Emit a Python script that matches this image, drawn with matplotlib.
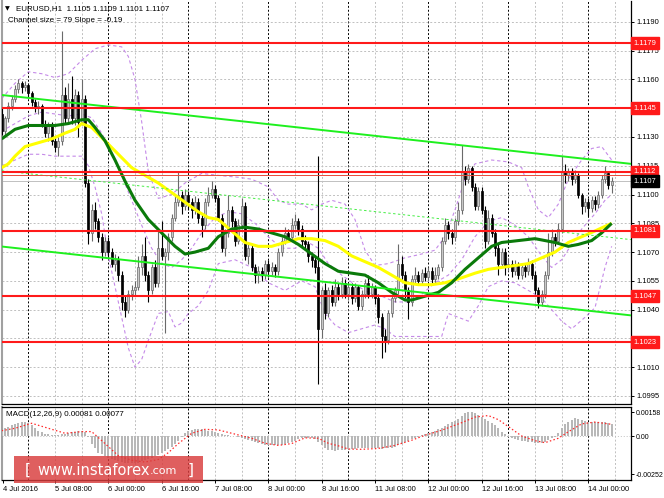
import numpy as np
import matplotlib
matplotlib.use("Agg")
import matplotlib.pyplot as plt
from matplotlib.transforms import blended_transform_factory
from matplotlib.patches import Rectangle

plt.rcParams["font.family"] = ["Liberation Sans", "DejaVu Sans"]

# -------------------------------------------------------
# Daten: EURUSD H1, Preise in Pips über 1.1000
# -------------------------------------------------------
open0 = 142
close = [133, 140, 146, 150, 155, 158, 156, 157, 153, 148,
         145, 146, 137, 132, 136, 128, 125, 128, 152, 140,
         150, 140, 152, 138, 150, 106, 80, 92, 86, 78,
         70, 76, 70, 64, 66, 58, 44, 40, 48, 50,
         52, 62, 68, 58, 50, 62, 54, 72, 68, 70,
         78, 88, 96, 100, 94, 100, 96, 92, 96, 88,
         84, 96, 100, 103, 98, 88, 72, 80, 92, 86,
         76, 84, 94, 68, 72, 62, 58, 60, 58, 64,
         60, 62, 60, 70, 76, 80, 78, 84, 86, 82,
         76, 74, 68, 66, 62, 30, 50, 38, 50, 44,
         52, 48, 54, 48, 52, 46, 52, 42, 48, 54,
         48, 52, 46, 36, 26, 24, 38, 46, 50, 64,
         58, 50, 44, 56, 58, 55, 59, 57, 60, 56,
         58, 62, 76, 84, 80, 78, 86, 92, 112, 108,
         114, 104, 94, 102, 92, 76, 88, 80, 72, 64,
         70, 62, 64, 60, 63, 58, 62, 60, 64, 58,
         50, 44, 48, 58, 70, 78, 76, 82, 112, 110,
         112, 108, 110, 100, 94, 96, 93, 97, 95, 100,
         108, 111, 105, 107]
high = [145, 141, 148, 152, 157, 160, 159, 159, 158, 154,
        150, 149, 147, 139, 138, 138, 130, 130, 185, 156,
        158, 162, 155, 154, 160, 152, 108, 95, 96, 88,
        80, 78, 78, 72, 69, 68, 60, 47, 50, 53,
        55, 68, 74, 78, 60, 64, 66, 82, 86, 72,
        80, 90, 100, 112, 102, 103, 102, 98, 99, 98,
        90, 98, 104, 107, 105, 100, 90, 82, 100, 94,
        88, 87, 98, 96, 75, 74, 64, 63, 62, 66,
        66, 65, 64, 72, 78, 83, 82, 88, 90, 88,
        84, 79, 76, 70, 68, 120, 52, 54, 52, 53,
        56, 54, 57, 56, 54, 54, 54, 53, 50, 56,
        58, 54, 53, 48, 38, 30, 40, 48, 52, 74,
        68, 60, 52, 58, 62, 60, 61, 62, 62, 62,
        62, 64, 78, 88, 86, 82, 88, 96, 126, 115,
        116, 115, 106, 104, 104, 94, 92, 90, 82, 74,
        72, 72, 67, 66, 66, 65, 64, 64, 67, 66,
        60, 52, 50, 60, 80, 82, 80, 85, 120, 116,
        114, 114, 113, 111, 101, 98, 98, 99, 99, 102,
        110, 115, 112, 109]
low = [131, 131, 138, 144, 148, 153, 153, 154, 151, 146,
       143, 142, 135, 130, 128, 126, 122, 120, 126, 137,
       138, 137, 136, 130, 136, 104, 74, 76, 82, 75,
       66, 68, 67, 62, 60, 55, 40, 36, 38, 45,
       47, 50, 58, 55, 44, 48, 52, 52, 66, 28,
       66, 76, 86, 94, 90, 92, 92, 88, 90, 85,
       78, 82, 94, 98, 96, 86, 70, 68, 78, 83,
       73, 74, 82, 66, 64, 60, 54, 54, 55, 56,
       57, 58, 57, 58, 68, 74, 75, 76, 82, 79,
       73, 71, 65, 62, 59, 1, 25, 35, 36, 42,
       42, 45, 46, 46, 45, 43, 44, 40, 40, 46,
       46, 46, 43, 33, 15, 18, 22, 36, 44, 48,
       56, 46, 35, 42, 54, 53, 53, 55, 55, 54,
       54, 56, 60, 74, 77, 74, 76, 84, 90, 105,
       106, 102, 92, 92, 90, 72, 74, 78, 68, 58,
       62, 58, 60, 57, 58, 56, 56, 57, 58, 56,
       48, 41, 42, 46, 56, 68, 73, 74, 80, 106,
       107, 105, 106, 98, 90, 91, 89, 91, 92, 93,
       98, 106, 103, 101]

# Gleitende Durchschnitte (Bar-Index, Pips)
ma_green_x = [0, 4, 8, 12, 16, 20, 24, 26, 28, 31, 34, 37, 40, 44, 48, 52, 55, 58, 62, 65,
              69, 73, 77, 81, 85, 89, 93, 97, 101, 105, 109, 113, 117, 121, 123, 127, 131,
              135, 139, 143, 147, 150, 155, 160, 163, 166, 170, 173, 177, 180, 183]
ma_green = [129, 134, 136, 136, 136, 137, 139, 139, 135, 128, 118, 107, 97, 87, 80, 73, 69, 70,
            72, 78, 82, 83, 82, 80, 78, 74, 69, 64, 60, 59, 58, 54, 49, 45, 45, 47, 49,
            54, 61, 67, 73, 75, 76, 77, 76, 75, 73, 74, 76, 80, 85]
ma_yellow_x = [0, 2, 4, 7, 11, 15, 19, 22, 24, 27, 31, 35, 39, 43, 47, 51, 55, 59, 62, 65,
               69, 73, 77, 81, 85, 89, 93, 97, 101, 105, 109, 113, 117, 121, 125, 129, 133,
               137, 142, 146, 150, 154, 158, 162, 166, 170, 174, 178, 183]
ma_yellow = [114, 116, 120, 125, 127, 129, 132, 134, 137, 135, 128, 121, 114, 110, 106, 101,
             96, 91, 88, 87, 81, 75, 73, 73, 75, 77, 77, 76, 73, 68, 65, 62, 58, 54, 53, 53,
             54, 56, 59, 61, 62, 63, 64, 67, 70, 75, 78, 81, 85]

# Bollinger-Bänder
bb_up_x = [0, 4, 8, 12, 16, 20, 24, 28, 32, 36, 38, 40, 42, 44, 47, 51, 55, 60, 65, 71, 75,
           80, 83, 86, 90, 93, 96, 99, 103, 106, 109, 112, 116, 121, 126, 130, 133, 136,
           139, 142, 147, 152, 156, 158, 161, 164, 167, 170, 174, 177, 180, 183]
bb_up = [150, 158, 164, 163, 161, 163, 170, 176, 178, 177, 172, 160, 138, 112, 98, 100, 106,
         111, 110, 109, 108, 104, 97, 95, 95, 92, 95, 97, 95, 87, 71, 63, 64, 67, 69, 71, 78,
         92, 108, 116, 118, 117, 114, 104, 92, 88, 95, 108, 118, 124, 125, 118]
bb_mid_x = [0, 4, 8, 12, 16, 20, 24, 27, 30, 33, 36, 39, 42, 45, 48, 51, 54, 57, 60, 64, 68,
            72, 76, 80, 84, 88, 92, 95, 98, 102, 106, 110, 114, 118, 122, 126, 130, 134,
            138, 142, 146, 150, 154, 158, 162, 165, 168, 171, 174, 178, 181, 183]
bb_mid = [133, 137, 141, 143, 142, 141, 142, 140, 132, 122, 110, 97, 84, 72, 64, 62, 66, 72,
          80, 88, 91, 90, 85, 78, 72, 72, 75, 72, 64, 58, 53, 49, 47, 44, 44, 48, 54, 58,
          66, 78, 86, 88, 84, 78, 68, 62, 66, 74, 82, 90, 97, 100]
bb_low_x = [0, 4, 8, 12, 16, 20, 24, 26, 28, 30, 32, 34, 36, 38, 40, 42, 44, 47, 50, 52, 54,
            56, 59, 62, 65, 70, 75, 80, 85, 90, 94, 97, 100, 104, 108, 112, 115, 118, 122,
            128, 132, 134, 137, 140, 143, 146, 150, 154, 158, 162, 165, 168, 171, 175, 178,
            181, 183]
bb_low = [115, 118, 121, 121, 120, 120, 120, 115, 104, 90, 68, 52, 36, 20, 10, 14, 24, 38, 39,
          31, 33, 38, 42, 50, 64, 66, 62, 54, 50, 55, 52, 38, 32, 28, 30, 32, 30, 26, 26, 26,
          26, 38, 36, 34, 42, 52, 55, 54, 50, 46, 40, 34, 30, 36, 41, 62, 73]

# Kanal (Endpunkte), Niveaus
chan_x = [0, 188.8]
chan_top = [151.9, 116.0]
chan_mid = [112.4, 76.5]
chan_bot = [72.9, 37.0]
levels = [1.1179, 1.1145, 1.1112, 1.1081, 1.1047, 1.1023]
level_thin = 1.1110
bid = 1.1107

# MACD (Einheiten 1e-5)
macd = [40, 52, 62, 72, 80, 88, 92, 95, 85, 70,
        52, 35, 25, 15, 10, 7, 6, 8, 12, 15,
        20, 25, 28, 32, 33, 29, -4, -50, -80, -110,
        -122, -135, -142, -150, -158, -165, -170, -175, -178, -180,
        -178, -175, -168, -160, -152, -145, -135, -125, -112, -100,
        -85, -70, -50, -30, -4, 20, 32, 40, 44, 45,
        44, 40, 36, 30, 25, 18, 12, 8, 5, 2,
        -2, -6, -10, -18, -25, -32, -40, -48, -55, -58,
        -60, -61, -60, -60, -58, -52, -45, -38, -32, -22,
        -15, -11, -10, -14, -22, -40, -60, -80, -90, -95,
        -97, -95, -92, -90, -88, -86, -84, -82, -81, -80,
        -80, -80, -80, -82, -84, -82, -80, -76, -70, -60,
        -50, -40, -30, -22, -15, -5, 5, 12, 22, 28,
        35, 45, 55, 68, 80, 90, 100, 112, 130, 154,
        161, 158, 152, 140, 125, 112, 100, 86, 73, 50,
        25, 10, -9, -15, -20, -26, -30, -34, -37, -42,
        -45, -48, -48, -40, -28, -15, -5, 18, 50, 79,
        95, 105, 117, 112, 106, 98, 90, 92, 95, 95,
        95, 92, 88, 81]
sig_x = [0, 4, 9, 14, 19, 24, 27, 31, 35, 39, 43, 47, 50, 53, 57, 61, 65, 69, 75, 79, 83, 87,
         91, 95, 98, 101, 104, 108, 113, 118, 123, 127, 132, 138, 142, 146, 149, 152, 156,
         160, 163, 167, 170, 174, 178, 183]
sig = [35, 51, 84, 51, 18, 29, 29, -50, -130, -160, -172, -155, -110, -50, 18, 44, 40, 18,
       -15, -48, -62, -50, -12, -15, -48, -65, -86, -88, -82, -62, -28, 5, 38, 88, 125, 135,
       108, 62, 0, -31, -44, -15, 28, 80, 92, 77]

price_ticks = [1.0995, 1.1010, 1.1025, 1.1040, 1.1055, 1.1070, 1.1085, 1.1100,
               1.1115, 1.1130, 1.1145, 1.1160, 1.1175, 1.1190]
hidden_ticks = [1.1025, 1.1145]   # von den Niveau-Boxen verdeckt
macd_ticks = [0.00158, 0.0, -0.00252]
macd_labels = ["0.00158", "0.00", "-0.00252"]
time_pos = [0.4, 16, 32, 48, 64, 80, 96, 112, 128, 144, 160, 176]
time_labels = ["4 Jul 2016", "5 Jul 08:00", "6 Jul 00:00", "6 Jul 16:00", "7 Jul 08:00",
               "8 Jul 00:00", "8 Jul 16:00", "11 Jul 08:00", "12 Jul 00:00",
               "12 Jul 16:00", "13 Jul 08:00", "14 Jul 00:00"]
day_starts = [8, 32, 56, 80, 104, 128, 152, 176]
grid_8h = [16, 24, 40, 48, 64, 72, 88, 96, 112, 120, 136, 144, 160, 168, 184]


def P(v):
    return 1.1 + np.asarray(v, dtype=float) / 10000.0


W, H = 664, 498
fig = plt.figure(figsize=(W / 100, H / 100), dpi=100)
fig.patch.set_facecolor("white")
ax = fig.add_axes([2 / W, 1 - 404 / H, 629 / W, 403 / H])
ax2 = fig.add_axes([2 / W, 1 - 480 / H, 629 / W, 73 / H])

XMIN, XMAX = 0.1, 188.8
FS = 5.4

for a in (ax, ax2):
    a.set_xlim(XMIN, XMAX)
    for x in day_starts:
        a.axvline(x, color="black", lw=0.7, ls=(0, (2, 2)), zorder=1)
    for x in grid_8h:
        a.axvline(x, color="#c0c0c0", lw=0.7, ls=(0, (2, 2)), zorder=1)
    a.spines["left"].set_color("#a0a0a0")
    a.spines["left"].set_linewidth(1.5)
    a.spines["right"].set_color("black")
    a.spines["bottom"].set_color("black")
    a.spines["right"].set_linewidth(0.9)
    a.spines["bottom"].set_linewidth(0.9)
    a.yaxis.tick_right()
    a.tick_params(axis="y", direction="out", length=2.5, width=0.7, pad=1.5,
                  labelsize=FS, colors="black")
    a.tick_params(axis="x", direction="out", length=2.5, width=0.7, pad=1.5,
                  labelsize=FS)
ax.spines["top"].set_visible(False)
ax2.spines["top"].set_color("black")
ax2.spines["top"].set_linewidth(0.9)

# -------- Hauptfenster --------
ax.set_ylim(1.1 - 9.2e-4, 1.1 + 200.9e-4)
ax.set_yticks(price_ticks)
ax.set_yticklabels(["" if v in hidden_ticks else f"{v:.4f}" for v in price_ticks])
ax.set_xticks([])
for v in price_ticks:
    ax.axhline(v, color="#c0c0c0", lw=0.7, ls=(0, (2, 2)), zorder=1)

# Bollinger
for bx, by in ((bb_up_x, bb_up), (bb_mid_x, bb_mid), (bb_low_x, bb_low)):
    ax.plot(bx, P(by), color="#c58ae8", lw=0.8, ls=(0, (3, 2.5)), zorder=2)

# Kerzen
o = np.array([open0] + close[:-1], dtype=float)
c = np.array(close, dtype=float)
hi = np.array(high, dtype=float)
lo = np.array(low, dtype=float)
idx = np.arange(len(c))
up = c >= o
ax.vlines(idx[up], P(lo[up]), P(hi[up]), color="#6a6a6a", lw=0.8, zorder=3)
ax.vlines(idx[~up], P(lo[~up]), P(hi[~up]), color="black", lw=0.8, zorder=3)
body = np.maximum(np.abs(c - o), 0.5) / 10000.0
ax.bar(idx[up], body[up], bottom=P(o[up]), width=0.66, color="#c8c8c8",
       edgecolor="#6a6a6a", linewidth=0.5, zorder=4)
ax.bar(idx[~up], body[~up], bottom=P(c[~up]), width=0.66, color="black",
       edgecolor="black", linewidth=0.5, zorder=4)

# Gleitende Durchschnitte
ax.plot(ma_yellow_x, P(ma_yellow), color="#ffff00", lw=2.2, zorder=5, solid_capstyle="butt")
ax.plot(ma_green_x, P(ma_green), color="#0a7a0a", lw=2.2, zorder=5, solid_capstyle="butt")

# Kanal
ax.plot(chan_x, P(chan_top), color="#1ef01e", lw=1.4, zorder=6)
ax.plot(chan_x, P(chan_bot), color="#1ef01e", lw=1.4, zorder=6)
ax.plot(chan_x, P(chan_mid), color="#44ee44", lw=0.7, ls=(0, (2.5, 2.5)), zorder=6)

# Niveaus
for lv in levels:
    ax.axhline(lv, color="#ff1a1a", lw=1.5, zorder=7)
ax.axhline(level_thin, color="#e84a3a", lw=0.7, zorder=7)
ax.axhline(bid, color="#c0c0c0", lw=0.7, zorder=2)

tr = blended_transform_factory(ax.transAxes, ax.transData)
for lv in levels:
    ax.text(1.004, lv, f"{lv:.4f}", transform=tr, fontsize=FS, color="white",
            va="center", ha="left", clip_on=False, zorder=20,
            bbox=dict(boxstyle="square,pad=0.3", fc="#ff1a1a", ec="#ff1a1a"))
ax.text(1.004, bid, f"{bid:.4f}", transform=tr, fontsize=FS, color="white",
        va="center", ha="left", clip_on=False, zorder=20,
        bbox=dict(boxstyle="square,pad=0.3", fc="black", ec="black"))

# -------- MACD --------
ax2.set_ylim(-0.002904, 0.001914)
m = np.array(macd, dtype=float) / 1e5
ax2.bar(idx, m, width=0.6, color="#b8b8b8", linewidth=0, zorder=3)
ax2.plot(sig_x, np.array(sig) / 1e5, color="#ff2a2a", lw=0.9, ls=(0, (1.2, 1.8)), zorder=4)
ax2.axhline(0, color="#c0c0c0", lw=0.7, ls=(0, (1, 2)), zorder=1)
ax2.set_yticks(macd_ticks)
ax2.set_yticklabels(macd_labels)
ax2.tick_params(axis="y", pad=0.8, labelsize=5.0)
ax2.set_xticks(time_pos)
ax2.set_xticklabels(time_labels)
for t in ax2.get_xticklabels():
    t.set_horizontalalignment("left")

# -------- Texte --------
fig.text(5 / W, 1 - 9 / H, "\u25bc", fontsize=4.5, va="center", ha="left",
         family="DejaVu Sans")
fig.text(16 / W, 1 - 9 / H, "EURUSD,H1  1.1105 1.1109 1.1101 1.1107", fontsize=5.8,
         va="center", ha="left")
fig.text(8 / W, 1 - 20 / H, "Channel size = 79 Slope = -0.19", fontsize=5.8,
         va="center", ha="left")
fig.text(6 / W, 1 - 414 / H, "MACD(12,26,9) 0.00081 0.00077", fontsize=5.8,
         va="center", ha="left")

# Wasserzeichen
fig.patches.append(Rectangle((14 / W, 1 - 483 / H), 189 / W, 27 / H,
                             transform=fig.transFigure, facecolor="#d93c3c",
                             alpha=0.82, edgecolor="none", zorder=30))
wm = dict(color="white", va="center", ha="left", zorder=31, family="DejaVu Sans")
fig.text(25 / W, 1 - 470 / H, "[", fontsize=11, **wm)
fig.text(37 / W, 1 - 470 / H, "www.instaforex", fontsize=10.5, **wm)
fig.text(150 / W, 1 - 471 / H, ".com", fontsize=8, **wm)
fig.text(188 / W, 1 - 470 / H, "]", fontsize=11, **wm)

fig.savefig("out.png", dpi=100)
